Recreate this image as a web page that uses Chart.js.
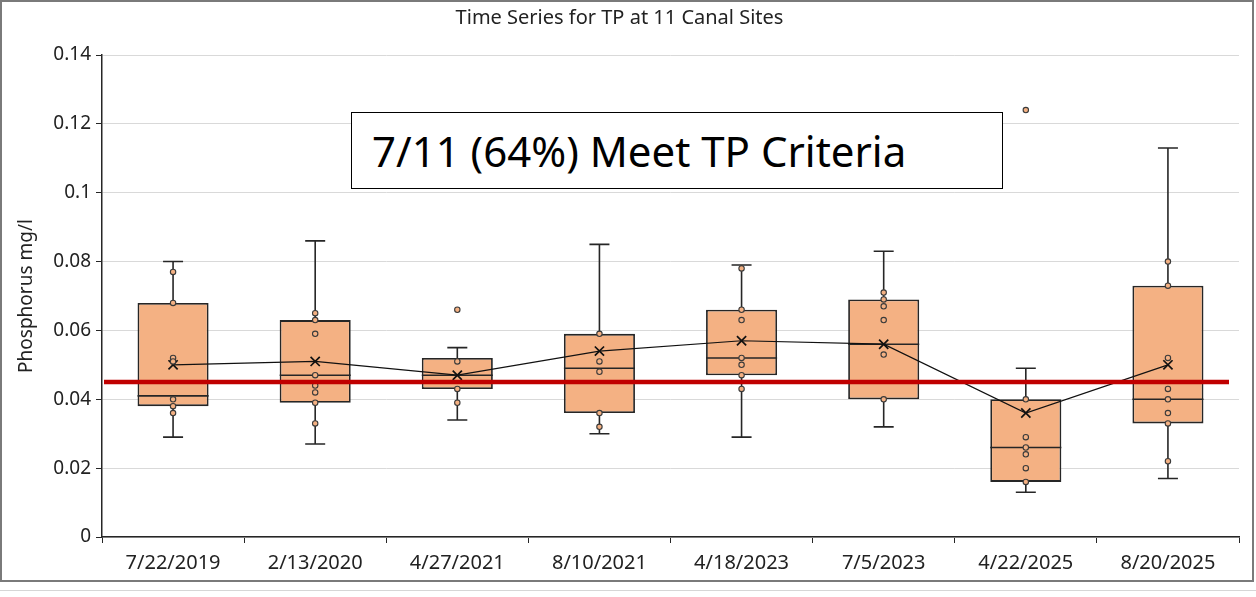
<!DOCTYPE html>
<html>
<head>
<meta charset="utf-8">
<title>Time Series for TP at 11 Canal Sites</title>
<script src="https://cdn.jsdelivr.net/npm/chart.js@4.4.0/dist/chart.umd.min.js"></script>
<style>
html, body { margin: 0; padding: 0; background: #fff; }
#wrap { position: relative; width: 1256px; height: 597px; overflow: hidden; }
#frame { position: absolute; left: 0; top: 0; width: 1250px; height: 578px; border: 2px solid #7a7a7a; pointer-events: none; }
#strip { position: absolute; left: 0; top: 590px; width: 1256px; height: 1px; background: #d6d6d6; }
#note { position: absolute; left: 351px; top: 112px; width: 630px; height: 75px; border: 1.5px solid #000; background: #fff;
        font-family: "Noto Sans"; font-size: 42px; line-height: 75px; padding-left: 20px; color: #000; white-space: nowrap; }
</style>
</head>
<body>
<div id="wrap">
  <canvas id="tp" width="1256" height="597"></canvas>
  <div id="note">7/11 (64%) Meet TP Criteria</div>
  <div id="strip"></div>
  <div id="frame"></div>
</div>
<script>
// sampling dates
var dates = ['7/22/2019', '2/13/2020', '4/27/2021', '8/10/2021', '4/18/2023', '7/5/2023', '4/22/2025', '8/20/2025'];

// box plot stats (mg/l)
var whiskerLow  = [0.029, 0.027, 0.034, 0.030, 0.029, 0.032, 0.013, 0.017];
var q1          = [0.038, 0.039, 0.043, 0.036, 0.047, 0.040, 0.016, 0.033];
var median      = [0.041, 0.047, 0.047, 0.049, 0.052, 0.056, 0.026, 0.040];
var q3          = [0.068, 0.063, 0.052, 0.059, 0.066, 0.069, 0.040, 0.073];
var whiskerHigh = [0.080, 0.086, 0.055, 0.085, 0.079, 0.083, 0.049, 0.113];
var means       = [0.050, 0.051, 0.047, 0.054, 0.057, 0.056, 0.036, 0.050];

// individual site values shown as dots (incl. outliers)
var siteValues = [
  [0.077, 0.068, 0.052, 0.051, 0.040, 0.038, 0.036],
  [0.065, 0.063, 0.059, 0.047, 0.044, 0.042, 0.039, 0.033],
  [0.066, 0.051, 0.043, 0.039],
  [0.059, 0.051, 0.048, 0.036, 0.032],
  [0.078, 0.066, 0.063, 0.052, 0.050, 0.047, 0.043],
  [0.071, 0.069, 0.067, 0.063, 0.053, 0.040],
  [0.124, 0.040, 0.029, 0.026, 0.024, 0.020, 0.016],
  [0.080, 0.073, 0.052, 0.043, 0.040, 0.036, 0.033, 0.022]
];

var yTicks = [0, 0.02, 0.04, 0.06, 0.08, 0.1, 0.12, 0.14];
var tpCriteria = 0.045;

var boxFill = '#F4B183';
var edge = '#262626';

var boxData = [];
for (var i = 0; i < dates.length; i++) boxData.push([q1[i], q3[i]]);

var dotData = [];
siteValues.forEach(function (vals, i) {
  vals.forEach(function (v) { dotData.push({ x: dates[i], y: v }); });
});

var boxExtras = {
  id: 'boxExtras',
  beforeDatasetsDraw: function (chart) {
    var ctx = chart.ctx, xs = chart.scales.x, ys = chart.scales.y;
    ctx.save();
    ctx.strokeStyle = edge;
    ctx.lineWidth = 1.6;
    for (var i = 0; i < dates.length; i++) {
      var x = xs.getPixelForValue(i);
      ctx.beginPath();
      ctx.moveTo(x, ys.getPixelForValue(q3[i]));
      ctx.lineTo(x, ys.getPixelForValue(whiskerHigh[i]));
      ctx.moveTo(x, ys.getPixelForValue(q1[i]));
      ctx.lineTo(x, ys.getPixelForValue(whiskerLow[i]));
      ctx.moveTo(x - 10, ys.getPixelForValue(whiskerHigh[i]));
      ctx.lineTo(x + 10, ys.getPixelForValue(whiskerHigh[i]));
      ctx.moveTo(x - 10, ys.getPixelForValue(whiskerLow[i]));
      ctx.lineTo(x + 10, ys.getPixelForValue(whiskerLow[i]));
      ctx.stroke();
    }
    ctx.restore();
  },
  afterDatasetDraw: function (chart, args) {
    if (args.index !== 0) return;
    var ctx = chart.ctx, ys = chart.scales.y;
    var bars = chart.getDatasetMeta(0).data;
    ctx.save();
    ctx.strokeStyle = edge;
    ctx.lineWidth = 1.6;
    bars.forEach(function (b, i) {
      var y = ys.getPixelForValue(median[i]);
      ctx.beginPath();
      ctx.moveTo(b.x - b.width / 2, y);
      ctx.lineTo(b.x + b.width / 2, y);
      ctx.stroke();
    });
    ctx.restore();
  },
  afterDatasetsDraw: function (chart) {
    var ctx = chart.ctx, ys = chart.scales.y, a = chart.chartArea;
    var y = ys.getPixelForValue(tpCriteria);
    ctx.save();
    ctx.strokeStyle = '#C00000';
    ctx.lineWidth = 4.5;
    ctx.beginPath();
    ctx.moveTo(a.left + 2, y);
    ctx.lineTo(a.right - 10, y);
    ctx.stroke();
    ctx.restore();
  }
};

Chart.defaults.font.family = 'Noto Sans';
Chart.defaults.color = '#222';

new Chart(document.getElementById('tp'), {
  data: {
    labels: dates,
    datasets: [
      {
        type: 'bar',
        data: boxData,
        backgroundColor: boxFill,
        borderColor: edge,
        borderWidth: 1.8,
        borderSkipped: false,
        barPercentage: 0.5,
        categoryPercentage: 1,
        order: 3
      },
      {
        type: 'line',
        data: means,
        borderColor: '#111',
        borderWidth: 1.2,
        pointStyle: 'crossRot',
        pointRadius: 6.5,
        pointBorderWidth: 1.7,
        pointBorderColor: '#111',
        tension: 0,
        fill: false,
        order: 2
      },
      {
        type: 'line',
        data: dotData,
        showLine: false,
        pointStyle: 'circle',
        pointRadius: 2.7,
        pointBackgroundColor: boxFill,
        pointBorderColor: '#3a3a3a',
        pointBorderWidth: 1.1,
        order: 1
      }
    ]
  },
  options: {
    responsive: false,
    animation: false,
    layout: { padding: { left: 0, right: 17, top: 0, bottom: 15 } },
    plugins: {
      legend: { display: false },
      tooltip: { enabled: false },
      title: {
        display: true,
        text: 'Time Series for TP at 11 Canal Sites',
        font: { size: 20, weight: 'normal' },
        color: '#222',
        padding: { top: 6, bottom: 25 }
      }
    },
    scales: {
      x: {
        type: 'category',
        offset: true,
        afterFit: function (s) { s.height = 45; },
        grid: { display: true, offset: true, drawOnChartArea: false, drawTicks: true, tickLength: 6, color: edge },
        border: { display: true, color: edge, width: 1.5 },
        ticks: { font: { size: 20 }, padding: 8, color: '#222', maxRotation: 0 }
      },
      y: {
        min: 0,
        max: 0.14,
        afterFit: function (s) { s.width = 102; },
        afterBuildTicks: function (s) { s.ticks = yTicks.map(function (v) { return { value: v }; }); },
        grid: { color: '#d9d9d9', lineWidth: 1, tickColor: edge, tickLength: 6 },
        border: { display: true, color: edge, width: 1.5 },
        ticks: {
          font: { size: 19 },
          padding: 5,
          color: '#222',
          callback: function (v) { return String(Math.round(v * 100) / 100); }
        },
        title: {
          display: true,
          text: 'Phosphorus mg/l',
          font: { size: 19 },
          color: '#222',
          padding: { top: 15, bottom: 0 }
        }
      }
    }
  },
  plugins: [boxExtras]
});
</script>
</body>
</html>
